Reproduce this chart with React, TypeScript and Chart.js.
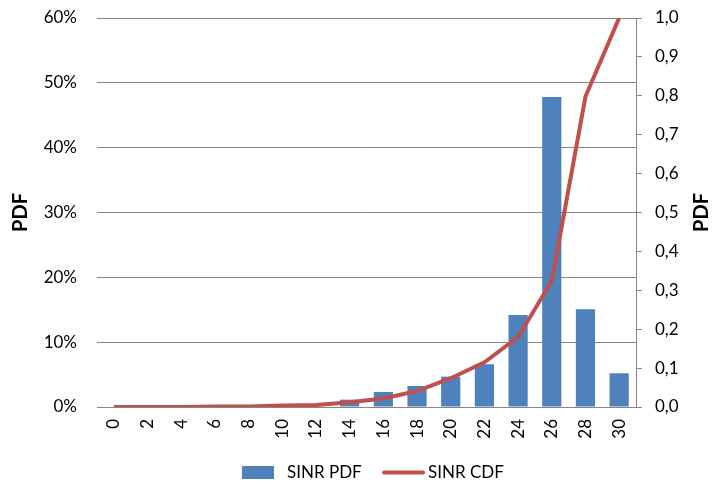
import React, { useEffect, useRef } from "react";
import { Chart, registerables } from "chart.js";

Chart.register(...registerables);

const categories = ["0", "2", "4", "6", "8", "10", "12", "14", "16", "18", "20", "22", "24", "26", "28", "30"];
const pdfValues = [0, 0, 0, 0.001, 0.0005, 0, 0, 0.0113, 0.0231, 0.0324, 0.0468, 0.066, 0.142, 0.478, 0.1507, 0.052];
const cdfValues = [0, 0, 0, 0.001, 0.001, 0.004, 0.005, 0.012, 0.022, 0.041, 0.074, 0.115, 0.18, 0.324, 0.798, 1.0];
const pdfLabel = "SINR PDF";
const cdfLabel = "SINR CDF";
const axisTitle = "PDF";

const FONT = "Lato, 'Noto Sans', sans-serif";
const BLUE = "#4F81BD";
const RED = "#C0504D";
const GRID = "#868686";

const extrasPlugin = {
  id: "extras",
  afterDraw(chart: any) {
    const ctx = chart.ctx as CanvasRenderingContext2D;
    const area = chart.chartArea;
    const midY = (area.top + area.bottom) / 2;
    ctx.save();
    ctx.fillStyle = "#000";
    ctx.font = `bold 20px ${FONT}`;
    ctx.textAlign = "center";
    ctx.textBaseline = "middle";
    for (const x of [21, chart.width - 10]) {
      ctx.save();
      ctx.translate(x, midY);
      ctx.rotate(-Math.PI / 2);
      ctx.fillText(axisTitle, 0, 0);
      ctx.restore();
    }
    // legend
    const ly = 472.5;
    ctx.font = `17px ${FONT}`;
    ctx.textAlign = "left";
    ctx.fillStyle = BLUE;
    ctx.fillRect(242, ly - 6.5, 32, 13);
    ctx.fillStyle = "#000";
    ctx.fillText(pdfLabel, 287, ly);
    ctx.strokeStyle = RED;
    ctx.lineWidth = 4;
    ctx.lineCap = "round";
    ctx.beginPath();
    ctx.moveTo(384, ly);
    ctx.lineTo(423, ly);
    ctx.stroke();
    ctx.fillText(cdfLabel, 428, ly);
    ctx.restore();
  },
};

export default function App() {
  const ref = useRef<HTMLCanvasElement | null>(null);
  useEffect(() => {
    if (!ref.current) return;
    const chart = new Chart(ref.current, {
      type: "bar",
      data: {
        labels: categories,
        datasets: [
          {
            type: "line",
            label: cdfLabel,
            data: cdfValues,
            yAxisID: "y1",
            borderColor: RED,
            backgroundColor: RED,
            borderWidth: 4,
            pointRadius: 0,
            tension: 0,
            order: 0,
          } as any,
          {
            type: "bar",
            label: pdfLabel,
            data: pdfValues,
            yAxisID: "y",
            backgroundColor: BLUE,
            categoryPercentage: 1,
            barPercentage: 0.57,
            order: 1,
          },
        ],
      },
      options: {
        responsive: false,
        animation: false,
        layout: { padding: { top: 18, left: 0, right: 0, bottom: 0 } },
        plugins: { legend: { display: false }, tooltip: { enabled: false } },
        scales: {
          x: {
            offset: true,
            grid: { display: false, drawTicks: false },
            border: { display: false },
            ticks: {
              color: "#000",
              font: { family: FONT, size: 17 },
              minRotation: 90,
              maxRotation: 90,
              autoSkip: false,
              padding: 12,
            },
            afterFit: (s: any) => {
              s.height = 78;
              s.paddingLeft = 0;
              s.paddingRight = 0;
            },
          },
          y: {
            position: "left",
            min: 0,
            max: 0.6,
            grid: { color: GRID, drawTicks: false },
            border: { display: false },
            ticks: {
              stepSize: 0.1,
              color: "#000",
              font: { family: FONT, size: 17 },
              padding: 20,
              callback: (v: any) => Math.round(Number(v) * 100) + "%",
            },
            afterFit: (s: any) => {
              s.width = 97;
              s.paddingTop = 0;
              s.paddingBottom = 0;
            },
          },
          y1: {
            position: "right",
            min: 0,
            max: 1,
            grid: { drawOnChartArea: false, color: GRID, tickLength: 6 },
            border: { display: true, color: GRID },
            ticks: {
              stepSize: 0.1,
              color: "#000",
              font: { family: FONT, size: 17 },
              padding: 13,
              callback: (v: any) => Number(v).toFixed(1).replace(".", ","),
            },
            afterFit: (s: any) => {
              s.width = 76;
              s.paddingTop = 0;
              s.paddingBottom = 0;
            },
          },
        },
      },
      plugins: [extrasPlugin],
    });
    return () => chart.destroy();
  }, []);
  return (
    <div style={{ position: "fixed", left: 0, top: 0, width: 712, height: 485, background: "#fff" }}>
      <canvas ref={ref} width={712} height={485} />
    </div>
  );
}
